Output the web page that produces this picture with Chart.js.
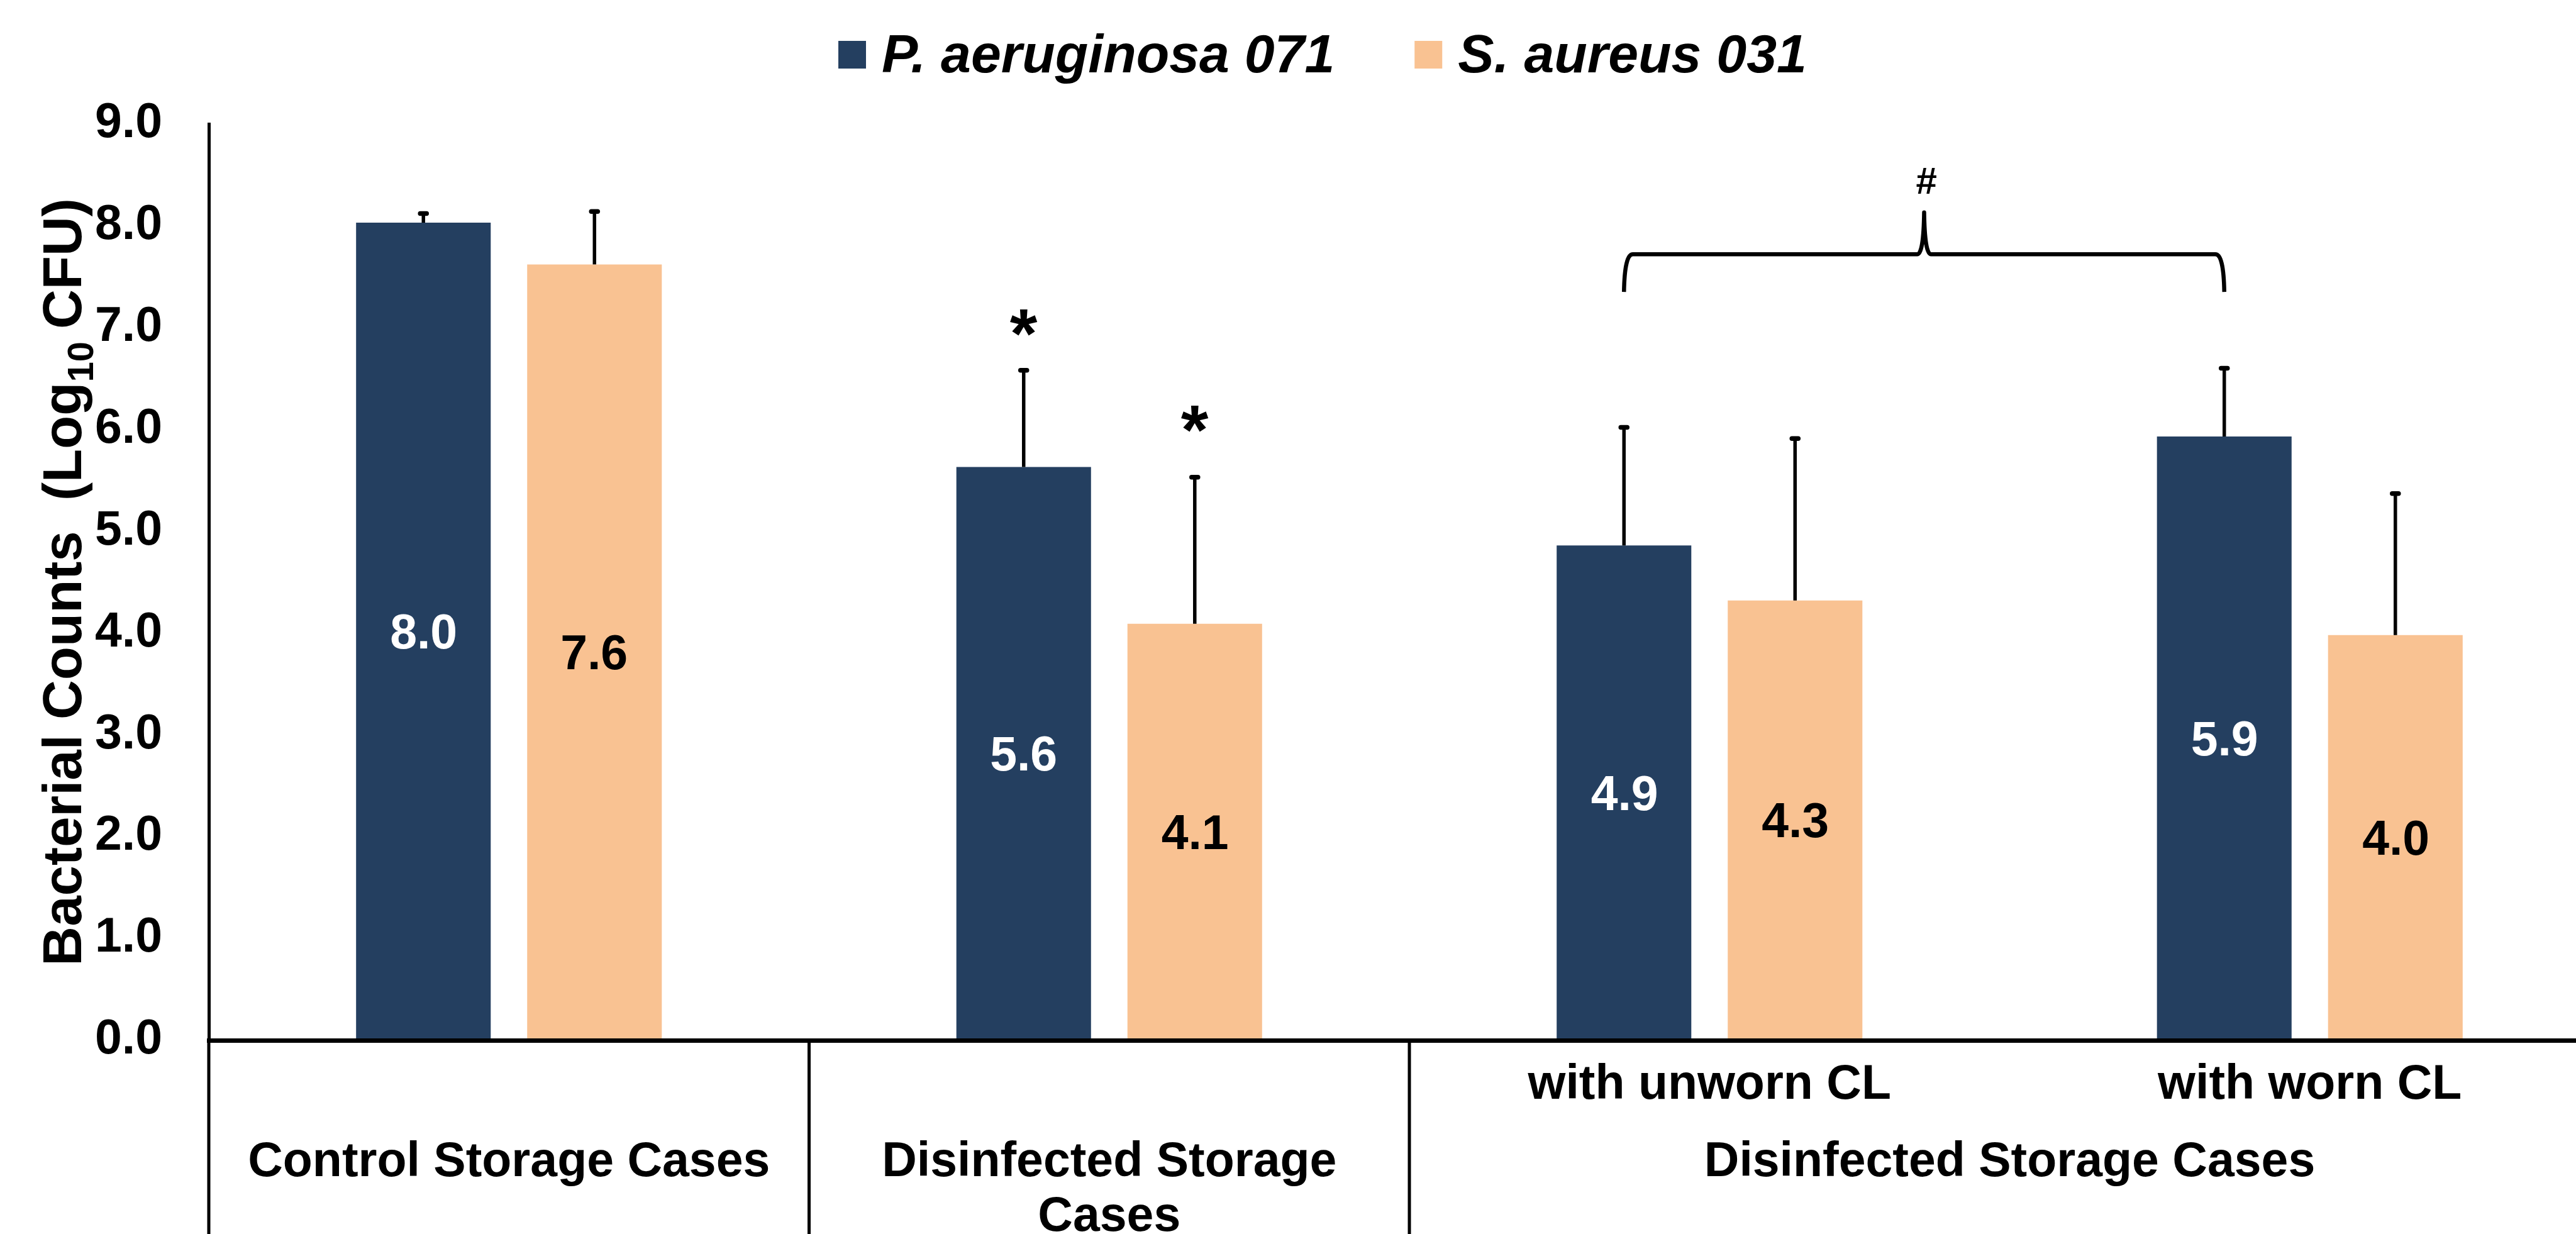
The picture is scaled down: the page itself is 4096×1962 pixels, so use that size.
<!DOCTYPE html>
<html><head><meta charset="utf-8">
<script src="https://cdn.jsdelivr.net/npm/chart.js@4.4.1/dist/chart.umd.min.js"></script>
<style>
html,body{margin:0;padding:0;background:#fff;overflow:hidden;width:4096px;height:1962px;}
#wrap{position:absolute;left:0;top:0;width:4150px;height:1962px;}
canvas{display:block;}
</style></head><body>
<div id="wrap"><canvas id="c" width="4150" height="1962" style="width:4150px;height:1962px"></canvas></div>
<script>
// ---- data ----
const categories = ['Control Storage Cases', 'Disinfected Storage Cases', 'Disinfected Storage Cases with unworn CL', 'Disinfected Storage Cases with worn CL'];
const subLabels = ['', '', 'with unworn CL', 'with worn CL'];
const groupLabels = [['Control Storage Cases'], ['Disinfected Storage', 'Cases'], ['Disinfected Storage Cases']];
const groupSpans = [[0, 0], [1, 1], [2, 3]];
const seriesNames = ['P. aeruginosa 071', 'S. aureus 031'];
const paValues = [8.03, 5.63, 4.86, 5.93];
const saValues = [7.62, 4.09, 4.32, 3.98];
const paErrors = [0.09, 0.95, 1.16, 0.67];
const saErrors = [0.52, 1.44, 1.59, 1.39];
const yMin = 0, yMax = 9, yStep = 1;
const yTitleParts = ['Bacterial Counts  (Log', '10', 'CFU)'];
const starMarks = [{series: 0, index: 1, value: 7.05}, {series: 1, index: 1, value: 6.10}];
const bracketMarks = [{series: 0, fromIndex: 2, toIndex: 3, legValue: 7.35, lineValue: 7.72, peakValue: 8.13, label: '#', labelValue: 8.44}];

// ---- style ----
const FONT = '"Liberation Sans", Arial, Helvetica, sans-serif';
const COLORS = ['#243F60', '#F9C292'];
const LABEL_COLORS = ['#FFFFFF', '#000000'];
const errorSets = [paErrors, saErrors];

function inkCentered(ctx, text, cx, cy) {
  ctx.textAlign = 'left';
  ctx.textBaseline = 'alphabetic';
  const m = ctx.measureText(text);
  const x = cx - (m.actualBoundingBoxRight - m.actualBoundingBoxLeft) / 2;
  const y = cy + (m.actualBoundingBoxAscent - m.actualBoundingBoxDescent) / 2;
  ctx.fillText(text, x, y);
}

const extras = {
  id: 'extras',
  afterDatasetsDraw(chart) {
    const ctx = chart.ctx;
    const y = chart.scales.y;
    ctx.save();
    ctx.strokeStyle = '#000';
    // error bars (positive only)
    chart.data.datasets.forEach((ds, di) => {
      const meta = chart.getDatasetMeta(di);
      meta.data.forEach((bar, i) => {
        const top = y.getPixelForValue(ds.data[i] + errorSets[di][i]);
        ctx.lineWidth = 5.5; ctx.lineCap = 'butt';
        ctx.beginPath(); ctx.moveTo(bar.x, bar.y); ctx.lineTo(bar.x, top); ctx.stroke();
        ctx.lineWidth = 7.5; ctx.lineCap = 'round';
        ctx.beginPath(); ctx.moveTo(bar.x - 5, top); ctx.lineTo(bar.x + 5, top); ctx.stroke();
      });
    });
    // value labels in the middle of bars
    ctx.font = 'bold 77px ' + FONT;
    chart.data.datasets.forEach((ds, di) => {
      const meta = chart.getDatasetMeta(di);
      ctx.fillStyle = LABEL_COLORS[di];
      meta.data.forEach((bar, i) => {
        inkCentered(ctx, Number(ds.data[i]).toFixed(1), bar.x, (bar.y + bar.base) / 2);
      });
    });
    // asterisks
    ctx.fillStyle = '#000';
    ctx.font = 'bold 112px ' + FONT;
    starMarks.forEach(s => {
      const bar = chart.getDatasetMeta(s.series).data[s.index];
      inkCentered(ctx, '*', bar.x, y.getPixelForValue(s.value));
    });
    // bracket
    bracketMarks.forEach(b => {
      const meta = chart.getDatasetMeta(b.series);
      const xl = meta.data[b.fromIndex].x, xr = meta.data[b.toIndex].x, xm = (xl + xr) / 2;
      const yLeg = y.getPixelForValue(b.legValue), yLine = y.getPixelForValue(b.lineValue), yPeak = y.getPixelForValue(b.peakValue);
      ctx.lineWidth = 6.5; ctx.lineCap = 'butt'; ctx.lineJoin = 'round';
      ctx.beginPath();
      ctx.moveTo(xl, yLeg);
      ctx.quadraticCurveTo(xl + 1, yLine, xl + 14, yLine);
      ctx.lineTo(xm - 11, yLine);
      ctx.quadraticCurveTo(xm - 1, yLine, xm, yPeak);
      ctx.quadraticCurveTo(xm + 1, yLine, xm + 11, yLine);
      ctx.lineTo(xr - 14, yLine);
      ctx.quadraticCurveTo(xr - 1, yLine, xr, yLeg);
      ctx.stroke();
      ctx.font = 'bold 60px ' + FONT;
      inkCentered(ctx, b.label, xm + 4, y.getPixelForValue(b.labelValue));
    });
    ctx.restore();
  },
  afterDraw(chart) {
    const ctx = chart.ctx;
    const x = chart.scales.x;
    const ca = chart.chartArea;
    const catW = x.width / chart.data.labels.length;
    ctx.save();
    // category separators below the axis
    ctx.strokeStyle = '#000';
    ctx.lineWidth = 5;
    groupSpans.forEach(sp => {
      const bx = x.getPixelForValue(sp[0]) - catW / 2;
      ctx.beginPath(); ctx.moveTo(bx, ca.bottom); ctx.lineTo(bx, chart.height); ctx.stroke();
    });
    // group labels
    ctx.fillStyle = '#000';
    ctx.font = 'bold 77px ' + FONT;
    ctx.textAlign = 'center'; ctx.textBaseline = 'alphabetic';
    groupLabels.forEach((lines, gi) => {
      const sp = groupSpans[gi];
      const cx = (x.getPixelForValue(sp[0]) + x.getPixelForValue(sp[1])) / 2;
      lines.forEach((t, li) => ctx.fillText(t, cx, ca.bottom + 216 + li * 87));
    });
    // y axis title with subscript
    ctx.translate(129, (ca.top + ca.bottom) / 2);
    ctx.rotate(-Math.PI / 2);
    const sizes = [87, 58, 87], shifts = [0, 19, 0], gaps = [0, 20, 0];
    let total = 0;
    const widths = yTitleParts.map((t, i) => { ctx.font = 'bold ' + sizes[i] + 'px ' + FONT; const w = ctx.measureText(t).width; total += w + gaps[i]; return w; });
    let px = -total / 2;
    ctx.textAlign = 'left';
    yTitleParts.forEach((t, i) => {
      ctx.font = 'bold ' + sizes[i] + 'px ' + FONT;
      ctx.fillText(t, px, shifts[i]);
      px += widths[i] + gaps[i];
    });
    ctx.restore();
    // legend
    ctx.save();
    let lx = 1333;
    ctx.font = 'bold italic 86px ' + FONT;
    ctx.textAlign = 'left'; ctx.textBaseline = 'alphabetic';
    chart.data.datasets.forEach((ds, di) => {
      ctx.fillStyle = ds.backgroundColor;
      ctx.fillRect(lx, 65, 44, 44);
      ctx.fillStyle = '#000';
      ctx.fillText(ds.label, lx + 69, 115);
      lx += 69 + ctx.measureText(ds.label).width + 127;
    });
    ctx.restore();
  }
};

new Chart(document.getElementById('c'), {
  type: 'bar',
  data: {
    labels: categories,
    datasets: [
      {label: seriesNames[0], data: paValues, backgroundColor: COLORS[0], borderWidth: 0, categoryPercentage: 0.57, barPercentage: 0.787},
      {label: seriesNames[1], data: saValues, backgroundColor: COLORS[1], borderWidth: 0, categoryPercentage: 0.57, barPercentage: 0.787}
    ]
  },
  options: {
    responsive: false,
    animation: false,
    devicePixelRatio: 1,
    layout: {padding: {left: 151, top: 197, right: 0, bottom: 0}},
    plugins: {legend: {display: false}, tooltip: {enabled: false}},
    scales: {
      x: {
        grid: {display: false, drawTicks: false},
        border: {display: true, color: '#000', width: 7, z: 1},
        ticks: {autoSkip: false, maxRotation: 0, minRotation: 0, padding: 26, color: '#000',
                font: {family: FONT, size: 77, weight: 'bold'},
                callback: (v, i) => subLabels[i]},
        afterFit: s => { s.height = 308; }
      },
      y: {
        min: yMin, max: yMax,
        grid: {display: false, drawTicks: false},
        border: {display: true, color: '#000', width: 5, z: 1},
        ticks: {stepSize: yStep, padding: 74, color: '#000',
                font: {family: FONT, size: 77, weight: 'bold'},
                callback: v => Number(v).toFixed(1)},
        afterFit: s => { s.width = 181; }
      }
    }
  },
  plugins: [extras]
});
</script>
</body></html>
